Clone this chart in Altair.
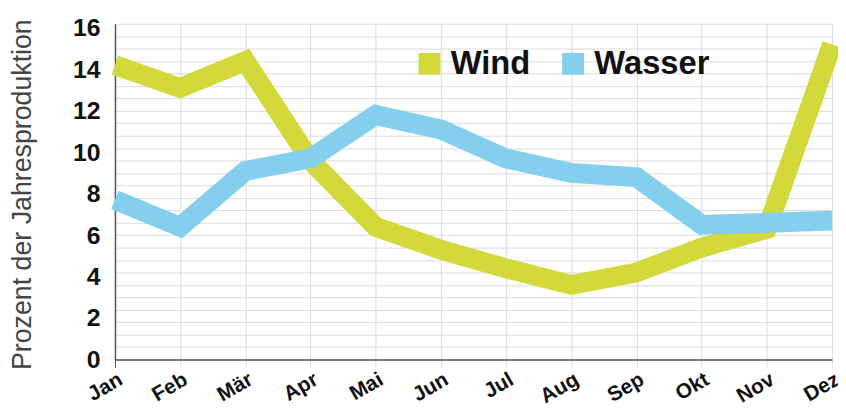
import altair as alt
import pandas as pd

months = ["Jan", "Feb", "Mär", "Apr", "Mai", "Jun", "Jul", "Aug", "Sep", "Okt", "Nov", "Dez"]
wind = [14.2, 13.1, 14.4, 9.6, 6.4, 5.3, 4.4, 3.6, 4.2, 5.4, 6.3, 15.2]
wasser = [7.7, 6.4, 9.1, 9.7, 11.8, 11.1, 9.7, 9.0, 8.8, 6.5, 6.6, 6.7]
series = ["Wind", "Wasser"]
colors = ["#d3d93b", "#83cfed"]
y_labels = [0, 2, 4, 6, 8, 10, 12, 14, 16]

rows = []
for m, v in zip(months, wind):
    rows.append({"Monat": m, "Wert": v, "Serie": "Wind"})
for m, v in zip(months, wasser):
    rows.append({"Monat": m, "Wert": v, "Serie": "Wasser"})
df = pd.DataFrame(rows)

grid_vals = [round(k * 0.6, 1) for k in range(28)]
axis_vals = sorted(set(grid_vals) | set(float(v) for v in y_labels))
grid_js = "[" + ",".join(str(v) for v in grid_vals) + "]"
lab_js = "[" + ",".join(str(v) for v in y_labels) + "]"

FONT = "Liberation Sans"

x_enc = alt.X(
    "Monat:N",
    sort=months,
    scale=alt.Scale(type="point", padding=0),
    axis=alt.Axis(
        title=None,
        labelAngle=330,
        labelAlign="right",
        labelBaseline="top",
        labelFont=FONT,
        labelFontSize=21,
        labelFontWeight="bold",
        labelColor="#111111",
        labelPadding=1,
        tickSize=8,
        tickColor={"condition": {"test": "datum.value == 'Jan'", "value": "#555555"}, "value": "#dddddd"},
        domainColor="#555555",
        domainWidth=1.5,
        grid=True,
        gridColor="#dcdcdc",
        gridWidth=1,
    ),
)

y_enc = alt.Y(
    "Wert:Q",
    scale=alt.Scale(domain=[0, 16.2], nice=False, zero=True),
    axis=alt.Axis(
        title="Prozent der Jahresproduktion",
        titleFont=FONT,
        titleFontSize=27,
        titleFontWeight="normal",
        titleColor="#444444",
        titleX=-79,
        titleY=172,
        values=axis_vals,
        labelExpr="indexof(" + lab_js + ", datum.value) >= 0 ? format(datum.value, 'd') : ''",
        labelFont=FONT,
        labelFontSize=25,
        labelFontWeight="bold",
        labelColor="#111111",
        labelPadding=15,
        ticks=False,
        domainColor="#555555",
        domainWidth=1.5,
        grid=True,
        gridColor="#dcdcdc",
        gridWidth=1,
        gridOpacity={"condition": {"test": "indexof(" + grid_js + ", datum.value) >= 0", "value": 1}, "value": 0},
    ),
)

color_enc = alt.Color(
    "Serie:N",
    scale=alt.Scale(domain=series, range=colors),
    legend=alt.Legend(
        title=None,
        orient="none",
        legendX=301,
        legendY=24,
        direction="horizontal",
        symbolType="square",
        symbolSize=1,
        symbolStrokeWidth=21,
        labelFont=FONT,
        labelFontSize=33,
        labelFontWeight="bold",
        labelColor="#111111",
        labelOffset=5,
        columnPadding=0,
        padding=0,
    ),
)

base = alt.Chart(df).mark_line(strokeWidth=20, strokeJoin="miter", strokeCap="butt").encode(
    x=x_enc, y=y_enc, color=color_enc
)

layer_wind = base.transform_filter(alt.datum.Serie == "Wind")
layer_wasser = base.transform_filter(alt.datum.Serie == "Wasser")

chart = (
    alt.layer(layer_wind, layer_wasser)
    .properties(
        width=724,
        height=339,
        padding={"left": 108, "top": 14, "right": 6, "bottom": 45},
        autosize=alt.AutoSizeParams(type="none"),
        background="white",
    )
    .configure_view(stroke=None)
)

chart.save("out.html", embed_options={"renderer": "svg", "actions": False})
